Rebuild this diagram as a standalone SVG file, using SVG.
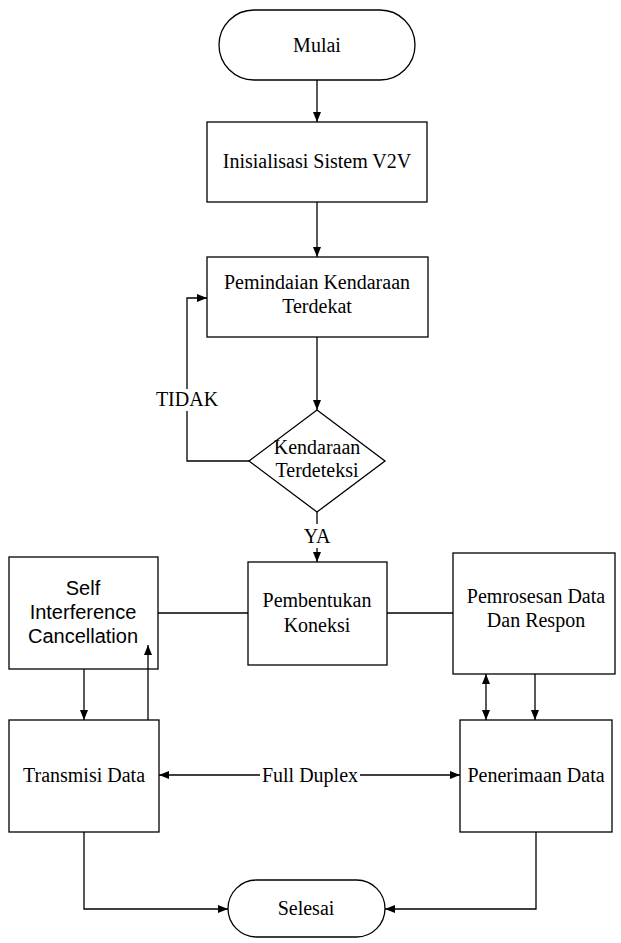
<svg xmlns="http://www.w3.org/2000/svg" width="621" height="943" viewBox="0 0 621 943">
  <style>
    .shape { fill: #ffffff; stroke: #000000; stroke-width: 1.3; }
    .conn { fill: none; stroke: #000000; stroke-width: 1.3; }
    .t { font-family: "Liberation Serif", "Times New Roman", serif; font-size: 20px; fill: #000000; text-anchor: middle; }
    .s { font-family: "Liberation Sans", Arial, sans-serif; font-size: 20px; fill: #000000; text-anchor: middle; }
    .bg { fill: #ffffff; stroke: none; }
  </style>
  <defs>
    <marker id="arr" markerUnits="userSpaceOnUse" markerWidth="10" markerHeight="8" refX="10" refY="4" orient="auto-start-reverse">
      <path d="M0,0 L10,4 L0,8 z" fill="#000000"/>
    </marker>
  </defs>
  <rect width="621" height="943" fill="#ffffff"/>

  <g id="mulai">
    <rect class="shape" x="219" y="10" width="196" height="70" rx="35" ry="35"/>
    <text class="t" x="317" y="52">Mulai</text>
  </g>
  <g id="inisialisasi">
    <rect class="shape" x="207" y="122" width="220" height="80"/>
    <text class="t" x="317" y="168">Inisialisasi Sistem V2V</text>
  </g>
  <g id="pemindaian">
    <rect class="shape" x="207" y="257" width="221" height="80"/>
    <text class="t" x="317" y="289">Pemindaian Kendaraan</text>
    <text class="t" x="317" y="313">Terdekat</text>
  </g>
  <g id="kendaraan-terdeteksi">
    <polygon class="shape" points="317,410 385,461 317,512 249,461"/>
    <text class="t" x="317" y="454">Kendaraan</text>
    <text class="t" x="317" y="477">Terdeteksi</text>
  </g>
  <g id="self-interference">
    <rect class="shape" x="9" y="557" width="149" height="112"/>
    <text class="s" x="83" y="595">Self</text>
    <text class="s" x="83" y="619">Interference</text>
    <text class="s" x="83" y="643">Cancellation</text>
  </g>
  <g id="pembentukan">
    <rect class="shape" x="248" y="562" width="139" height="103"/>
    <text class="t" x="317" y="607">Pembentukan</text>
    <text class="t" x="317" y="632">Koneksi</text>
  </g>
  <g id="pemrosesan">
    <rect class="shape" x="453" y="553" width="162" height="121"/>
    <text class="t" x="536" y="603">Pemrosesan Data</text>
    <text class="t" x="536" y="627">Dan Respon</text>
  </g>
  <g id="transmisi">
    <rect class="shape" x="9" y="720" width="150" height="112"/>
    <text class="t" x="84" y="782">Transmisi Data</text>
  </g>
  <g id="penerimaan">
    <rect class="shape" x="460" y="720" width="152" height="112"/>
    <text class="t" x="536" y="782">Penerimaan Data</text>
  </g>
  <g id="selesai">
    <rect class="shape" x="228" y="880" width="157" height="57" rx="28.5" ry="28.5"/>
    <text class="t" x="306" y="915">Selesai</text>
  </g>

  <g id="connectors">
    <line class="conn" x1="317" y1="80" x2="317" y2="122" marker-end="url(#arr)"/>
    <line class="conn" x1="317" y1="202" x2="317" y2="257" marker-end="url(#arr)"/>
    <line class="conn" x1="317" y1="337" x2="317" y2="410" marker-end="url(#arr)"/>
    <path class="conn" d="M249,461 H187 V298 H207" marker-end="url(#arr)"/>
    <rect class="bg" x="150" y="389" width="74" height="22"/>
    <text class="t" x="187" y="406">TIDAK</text>
    <line class="conn" x1="317" y1="512" x2="317" y2="562" marker-end="url(#arr)"/>
    <rect class="bg" x="300" y="524" width="34" height="24"/>
    <text class="t" x="317" y="543">YA</text>
    <line class="conn" x1="158" y1="613" x2="248" y2="613"/>
    <line class="conn" x1="387" y1="613" x2="453" y2="613"/>
    <line class="conn" x1="84" y1="669" x2="84" y2="720" marker-end="url(#arr)"/>
    <line class="conn" x1="148" y1="720" x2="148" y2="645" marker-end="url(#arr)"/>
    <line class="conn" x1="486" y1="674" x2="486" y2="720" marker-start="url(#arr)" marker-end="url(#arr)"/>
    <line class="conn" x1="535" y1="674" x2="535" y2="720" marker-end="url(#arr)"/>
    <line class="conn" x1="159" y1="775" x2="460" y2="775" marker-start="url(#arr)" marker-end="url(#arr)"/>
    <rect class="bg" x="260" y="762" width="100" height="26"/>
    <text class="t" x="310" y="782">Full Duplex</text>
    <path class="conn" d="M84,832 V909 H228" marker-end="url(#arr)"/>
    <path class="conn" d="M536,832 V909 H385" marker-end="url(#arr)"/>
  </g>
</svg>
